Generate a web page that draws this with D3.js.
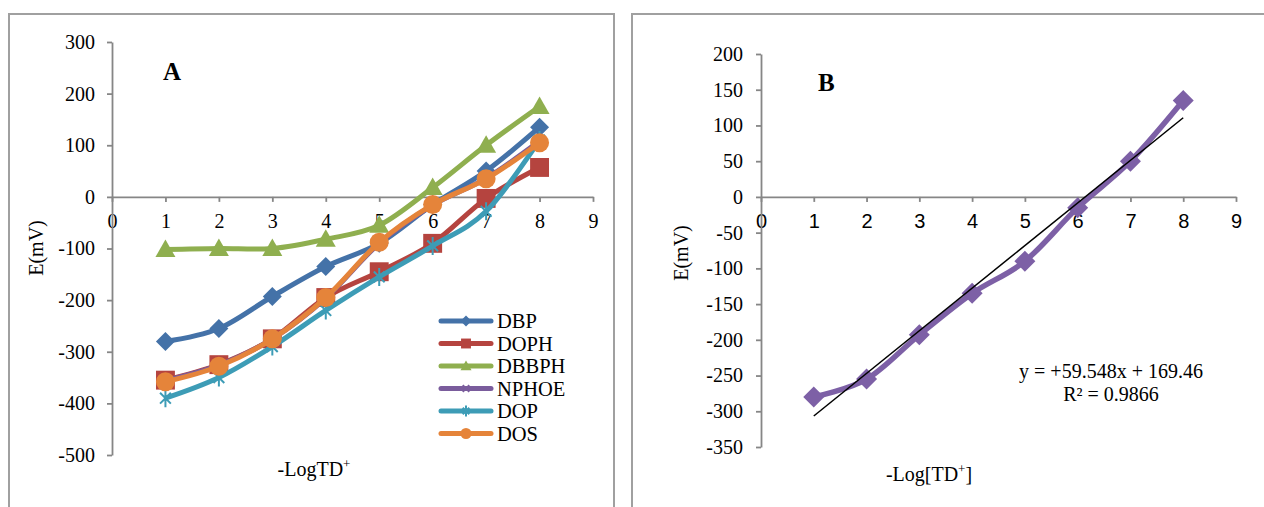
<!DOCTYPE html>
<html>
<head>
<meta charset="utf-8">
<script src="https://cdn.jsdelivr.net/npm/d3@7"></script>
<style>
  body { margin: 0; background: #fff; }
  svg { display: block; }
  text { font-family: "Liberation Serif", "Times New Roman", serif; fill: #000; }
</style>
</head>
<body>
<svg id="chart" width="1264" height="507"></svg>
<script>
// x values shared by both panels
const xVals = [1, 2, 3, 4, 5, 6, 7, 8];
const xTicks = [0, 1, 2, 3, 4, 5, 6, 7, 8, 9];

// Panel A series
const seriesNames = ["DBP", "DOPH", "DBBPH", "NPHOE", "DOP", "DOS"];
const dbp   = [-280, -255, -193, -135, -90, -15, 50, 135];
const doph  = [-355, -325, -275, -195, -145, -90, -3, 57];
const dbbph = [-102, -100, -100, -82, -55, 18, 100, 175];
const nphoe = [-356, -326, -275, -196, -90, -16, 36, 108];
const dop   = [-390, -350, -290, -220, -155, -95, -28, 110];
const dos   = [-358, -328, -275, -195, -88, -15, 35, 105];
const aTicks = [300, 200, 100, 0, -100, -200, -300, -400, -500];

// Panel B series (NPHOE)
const bVals = [-280, -255, -193, -135, -90, -15, 50, 135];
const bTicks = [200, 150, 100, 50, 0, -50, -100, -150, -200, -250, -300, -350];

const svg = d3.select("#chart");
const axisGray = "#868686";

// panel borders
svg.append("rect").attr("x", 9).attr("y", 14).attr("width", 605).attr("height", 520)
  .attr("fill", "none").attr("stroke", "#a0a0a0").attr("stroke-width", 2);
svg.append("rect").attr("x", 632).attr("y", 14).attr("width", 660).attr("height", 520)
  .attr("fill", "none").attr("stroke", "#a0a0a0").attr("stroke-width", 2);

// marker drawing
function marker(g, type, cx, cy, size, color) {
  const s = size / 2;
  if (type === "diamond") {
    g.append("path").attr("d", `M${cx},${cy - s}L${cx + s},${cy}L${cx},${cy + s}L${cx - s},${cy}Z`).attr("fill", color);
  } else if (type === "square") {
    const h = s * 0.9;
    g.append("rect").attr("x", cx - h).attr("y", cy - h).attr("width", 2 * h).attr("height", 2 * h).attr("fill", color);
  } else if (type === "triangle") {
    g.append("path").attr("d", `M${cx},${cy - s}L${cx + s},${cy + s * 0.75}L${cx - s},${cy + s * 0.75}Z`).attr("fill", color);
  } else if (type === "circle") {
    g.append("circle").attr("cx", cx).attr("cy", cy).attr("r", s).attr("fill", color);
  } else if (type === "x") {
    const h = s * 0.6;
    g.append("path").attr("d", `M${cx - h},${cy - h}L${cx + h},${cy + h}M${cx + h},${cy - h}L${cx - h},${cy + h}`)
      .attr("stroke", color).attr("stroke-width", 2);
  } else if (type === "star") {
    const h = s * 0.6;
    g.append("path").attr("d", `M${cx - h},${cy - h}L${cx + h},${cy + h}M${cx + h},${cy - h}L${cx - h},${cy + h}M${cx},${cy - s}L${cx},${cy + s}`)
      .attr("stroke", color).attr("stroke-width", 2);
  }
}

function drawAxes(x, y, yTicks, xFont, yPad) {
  const gx = svg.append("g").attr("transform", `translate(0,${y(0)})`)
    .call(d3.axisBottom(x).tickValues(xTicks).tickSize(5).tickSizeOuter(0).tickPadding(12).tickFormat(d => String(d)));
  gx.selectAll("text").style("font-family", xFont).style("font-size", "20px");
  const gy = svg.append("g").attr("transform", `translate(${x(0)},0)`)
    .call(d3.axisLeft(y).tickValues(yTicks).tickSize(5).tickSizeOuter(0).tickPadding(yPad).tickFormat(d => String(d)));
  gy.selectAll("text").style("font-size", "20px");
  svg.selectAll(".domain, .tick line").attr("stroke", axisGray).attr("stroke-width", 1.8);
}

const curve = d3.curveCatmullRom.alpha(0);

// ---------- Panel A ----------
const xA = d3.scaleLinear().domain([0, 9]).range([112, 593]);
const yA = d3.scaleLinear().domain([-500, 300]).range([455, 42]);
drawAxes(xA, yA, aTicks, "Liberation Serif", 12);

const seriesA = [
  { name: "DBP", values: dbp, color: "#4472a8", mk: "diamond", size: 19 },
  { name: "DOPH", values: doph, color: "#b5443f", mk: "square", size: 21 },
  { name: "DBBPH", values: dbbph, color: "#8faf4f", mk: "triangle", size: 20 },
  { name: "NPHOE", values: nphoe, color: "#7a5c9c", mk: "x", size: 16 },
  { name: "DOP", values: dop, color: "#3d9cb6", mk: "star", size: 18 },
  { name: "DOS", values: dos, color: "#e5843a", mk: "circle", size: 19 }
];

const lineA = d3.line().x((d, i) => xA(xVals[i])).y(d => yA(d)).curve(curve);
seriesA.forEach(s => {
  const g = svg.append("g");
  g.append("path").attr("d", lineA(s.values)).attr("fill", "none")
    .attr("stroke", s.color).attr("stroke-width", 5).attr("stroke-linejoin", "round");
  s.values.forEach((v, i) => marker(g, s.mk, xA(xVals[i]), yA(v), s.size, s.color));
});

svg.append("text").attr("x", 163).attr("y", 80).style("font-size", "25px").style("font-weight", "bold").text("A");

svg.append("text").attr("transform", "translate(43,248) rotate(-90)").attr("text-anchor", "middle")
  .style("font-size", "20px").text("E(mV)");
const xtA = svg.append("text").attr("x", 314).attr("y", 476).attr("text-anchor", "middle").style("font-size", "20px");
xtA.append("tspan").text("-LogTD");
xtA.append("tspan").attr("dy", -8).style("font-size", "13px").text("+");

// legend
const legend = svg.append("g");
seriesA.forEach((s, i) => {
  const ly = 321 + i * 22.5;
  legend.append("line").attr("x1", 441).attr("x2", 491).attr("y1", ly).attr("y2", ly)
    .attr("stroke", s.color).attr("stroke-width", 5).attr("stroke-linecap", "round");
  marker(legend, s.mk, 466, ly, 11, s.color);
  legend.append("text").attr("x", 497).attr("y", ly + 7).style("font-size", "20.5px").text(s.name);
});

// ---------- Panel B ----------
const xB = d3.scaleLinear().domain([0, 9]).range([761, 1236]);
const yB = d3.scaleLinear().domain([-350, 200]).range([447, 54]);
drawAxes(xB, yB, bTicks, "Liberation Sans", 13);

const purple = "#7d60a6";
const lineB = d3.line().x((d, i) => xB(xVals[i])).y(d => yB(d)).curve(curve);
const gB = svg.append("g");
gB.append("path").attr("d", lineB(bVals)).attr("fill", "none")
  .attr("stroke", purple).attr("stroke-width", 5.5).attr("stroke-linejoin", "round");
bVals.forEach((v, i) => marker(gB, "diamond", xB(xVals[i]), yB(v), 21, purple));

// linear trendline (least squares)
const mx = d3.mean(xVals), my = d3.mean(bVals);
const slope = d3.sum(xVals, (x, i) => (x - mx) * (bVals[i] - my)) / d3.sum(xVals, x => (x - mx) ** 2);
const icpt = my - slope * mx;
svg.append("line")
  .attr("x1", xB(1)).attr("y1", yB(slope * 1 + icpt))
  .attr("x2", xB(8)).attr("y2", yB(slope * 8 + icpt))
  .attr("stroke", "#000").attr("stroke-width", 1.5);

svg.append("text").attr("x", 818).attr("y", 91).style("font-size", "25px").style("font-weight", "bold").text("B");
svg.append("text").attr("transform", "translate(688,253) rotate(-90)").attr("text-anchor", "middle")
  .style("font-size", "20px").text("E(mV)");
const xtB = svg.append("text").attr("x", 929).attr("y", 481).attr("text-anchor", "middle").style("font-size", "20px");
xtB.append("tspan").text("-Log[TD");
xtB.append("tspan").attr("dy", -8).style("font-size", "13px").text("+");
xtB.append("tspan").attr("dy", 8).text("]");

svg.append("text").attr("x", 1111).attr("y", 378).attr("text-anchor", "middle").style("font-size", "20px")
  .text("y = +59.548x + 169.46");
svg.append("text").attr("x", 1111).attr("y", 401).attr("text-anchor", "middle").style("font-size", "20px")
  .text("R² = 0.9866");
</script>
</body>
</html>
